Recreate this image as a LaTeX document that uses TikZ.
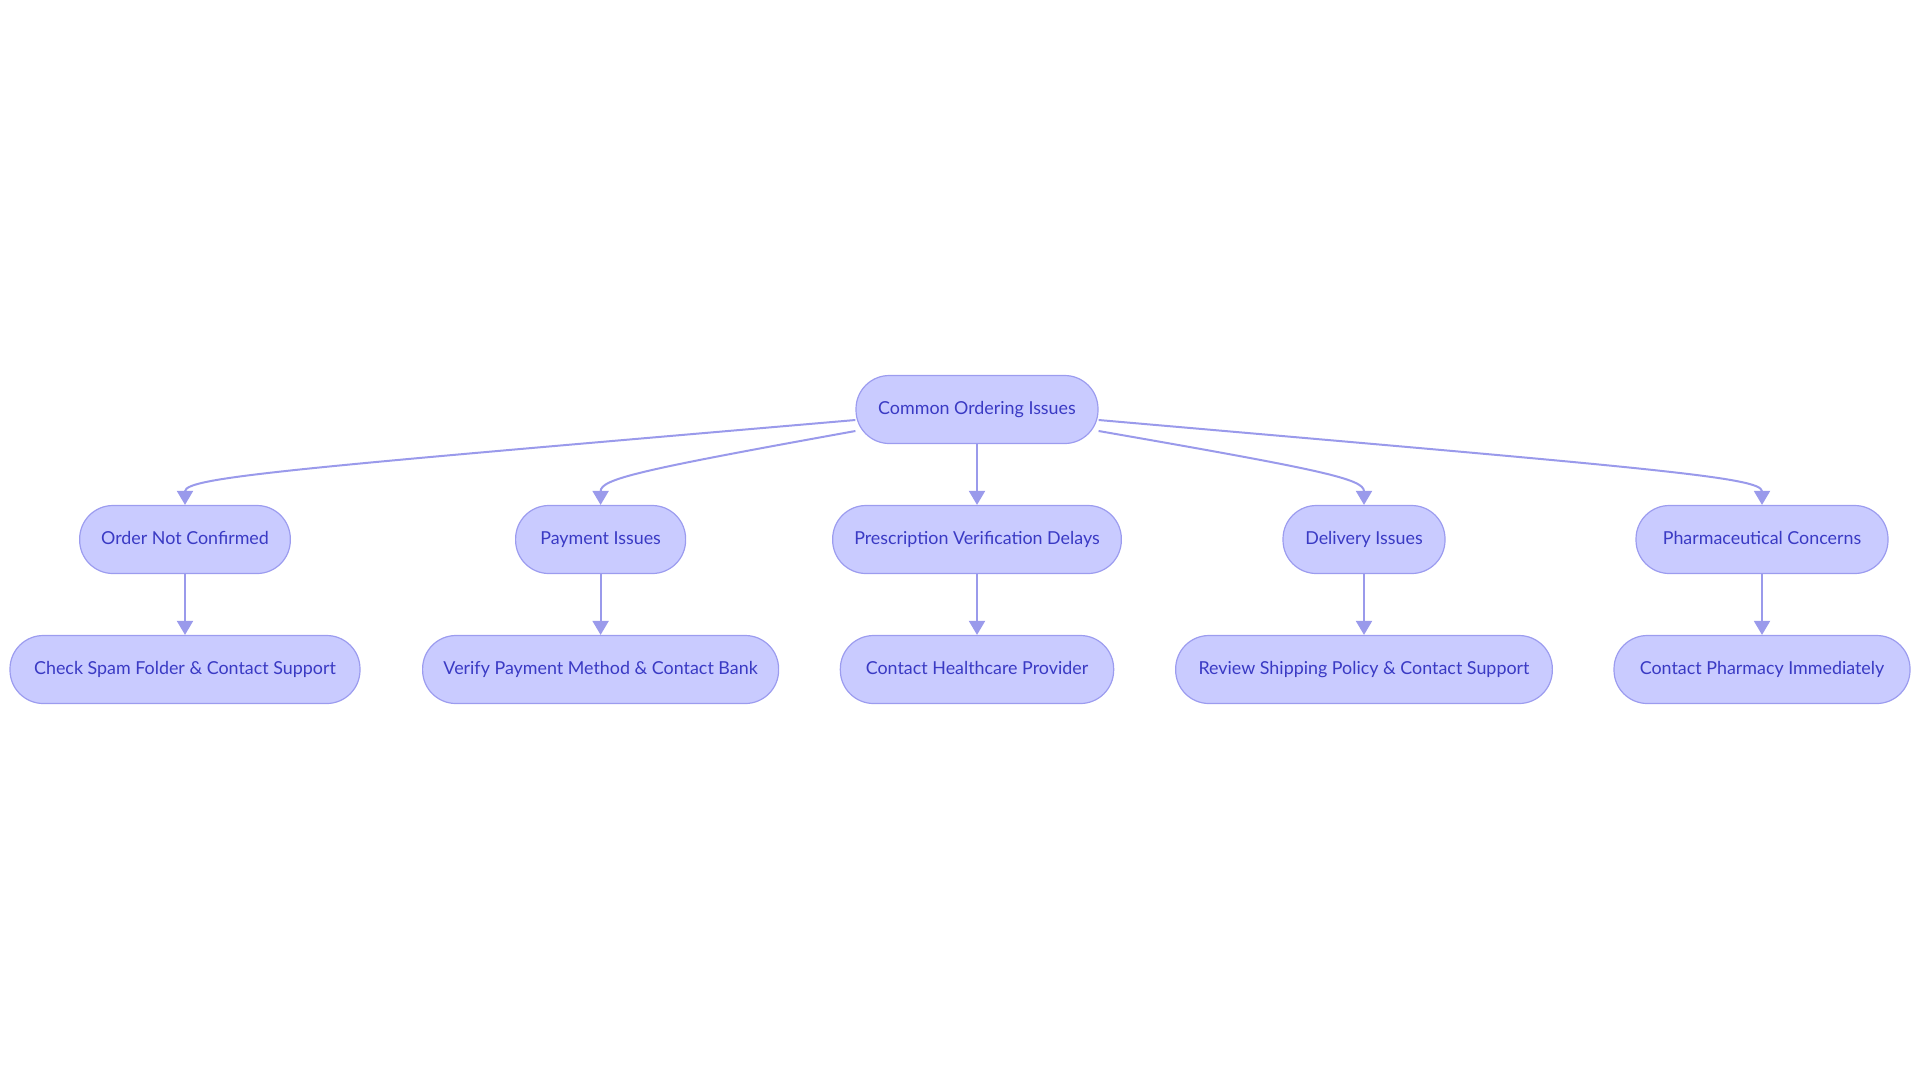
\documentclass[tikz,border=0pt]{standalone}
\usepackage{fontspec}
\setmainfont{Lato}
\usetikzlibrary{arrows.meta,calc}
\definecolor{nodefill}{HTML}{C9CBFF}
\definecolor{nodeline}{HTML}{9C9CEF}
\definecolor{edgecol}{HTML}{9A9AEB}
\definecolor{textcol}{HTML}{3A3AC4}
\begin{document}
\begin{tikzpicture}[x=0.75pt,y=-0.75pt,
  box/.style={draw=nodeline,line width=0.9pt,fill=nodefill,rounded corners=25pt,
    minimum height=51pt,inner sep=0pt,text=textcol,text height=9.6pt,text depth=2.8pt,
    font=\fontsize{13.4pt}{16pt}\selectfont},
  edge/.style={draw=edgecol,line width=1.5pt,-{Triangle[width=12pt,length=10.5pt]}}]
\useasboundingbox (0,0) rectangle (1920,1083);
\node[box,minimum width=181.5pt] (root) at (977,409.5) {Common Ordering Issues};
\node[box,minimum width=158pt] (a) at (185,539.5) {Order Not Confirmed};
\node[box,minimum width=127.5pt] (b) at (600.6,539.5) {Payment Issues};
\node[box,minimum width=216.5pt] (c) at (977,539.5) {Prescription Verification Delays};
\node[box,minimum width=121.5pt] (d) at (1364,539.5) {Delivery Issues};
\node[box,minimum width=189pt] (e) at (1762,539.5) {Pharmaceutical Concerns};
\node[box,minimum width=262.5pt] (a2) at (185,669.5) {Check Spam Folder \& Contact Support};
\node[box,minimum width=267pt] (b2) at (600.6,669.5) {Verify Payment Method \& Contact Bank};
\node[box,minimum width=205pt] (c2) at (977,669.5) {Contact Healthcare Provider};
\node[box,minimum width=282.5pt] (d2) at (1364,669.5) {Review Shipping Policy \& Contact Support};
\node[box,minimum width=222pt] (e2) at (1762,669.5) {Contact Pharmacy Immediately};
\draw[edge] ($(root.west)+(0,10.5)$) .. controls +(-556,48) and +(0,-28) .. (a.north);
\draw[edge] ($(root.west)+(0,21.5)$) .. controls +(-216,39) and +(0,-26) .. (b.north);
\draw[edge] (root.south) -- (c.north);
\draw[edge] ($(root.east)+(0,21.5)$) .. controls +(224,39) and +(0,-26) .. (d.north);
\draw[edge] ($(root.east)+(0,10.5)$) .. controls +(550,48) and +(0,-28) .. (e.north);
\draw[edge] (a.south) -- (a2.north);
\draw[edge] (b.south) -- (b2.north);
\draw[edge] (c.south) -- (c2.north);
\draw[edge] (d.south) -- (d2.north);
\draw[edge] (e.south) -- (e2.north);
\end{tikzpicture}
\end{document}
